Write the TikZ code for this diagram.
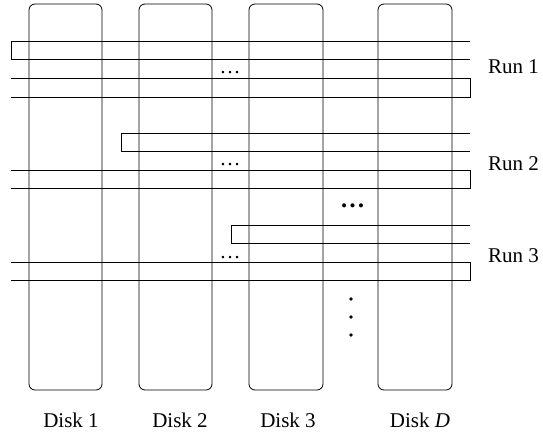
\documentclass[tikz,border=0pt]{standalone}
\usepackage{fontspec}
\setmainfont{Liberation Serif}
\begin{document}
\begin{tikzpicture}[x=1pt,y=-1pt,
  disk/.style={draw=black,line width=0.8pt,rounded corners=6pt},
  runline/.style={draw=black,line width=0.8pt},
  lbl/.style={font=\fontsize{21}{25}\selectfont,inner sep=0pt,anchor=base},
  smalldots/.style={font=\fontsize{21}{25}\selectfont,inner sep=0pt,anchor=base},
  bigdots/.style={font=\fontsize{25}{30}\selectfont\bfseries,inner sep=0pt,anchor=base},
  vdot/.style={fill=black,circle,inner sep=0pt,minimum size=3.8pt}]
\useasboundingbox (0,0) rectangle (543,431);
% disks
\draw[disk] (29,4) rectangle (102,390);
\draw[disk] (139,4) rectangle (212,390);
\draw[disk] (249,4) rectangle (323,390);
\draw[disk] (378,4) rectangle (452,390);
% run 1
\draw[runline] (470,41) -- (11,41) -- (11,59) -- (470,59);
\draw[runline] (11,78) -- (470,78) -- (470,97) -- (11,97);
% run 2
\draw[runline] (470,133) -- (121,133) -- (121,151) -- (470,151);
\draw[runline] (11,170) -- (470,170) -- (470,188) -- (11,188);
% run 3
\draw[runline] (470,225) -- (231,225) -- (231,243) -- (470,243);
\draw[runline] (11,262) -- (470,262) -- (470,280) -- (11,280);
% dots
\node[smalldots] (d1) at (230,73) {…};
\node[smalldots] (d2) at (230,165) {…};
\node[smalldots] (d3) at (230,258) {…};
\node[bigdots] (dbig) at (352.5,207) {…};
\node[vdot] (v1) at (351,299) {};
\node[vdot] (v2) at (351,317) {};
\node[vdot] (v3) at (351,335) {};
% run labels
\node[lbl,anchor=base west] (r1) at (488,73) {Run 1};
\node[lbl,anchor=base west] (r2) at (488,170) {Run 2};
\node[lbl,anchor=base west] (r3) at (488,262) {Run 3};
% disk labels
\node[lbl] (l1) at (71,427) {Disk 1};
\node[lbl] (l2) at (180,427) {Disk 2};
\node[lbl] (l3) at (288,427) {Disk 3};
\node[lbl] (l4) at (420,427) {Disk \textit{D}};
\end{tikzpicture}
\end{document}
